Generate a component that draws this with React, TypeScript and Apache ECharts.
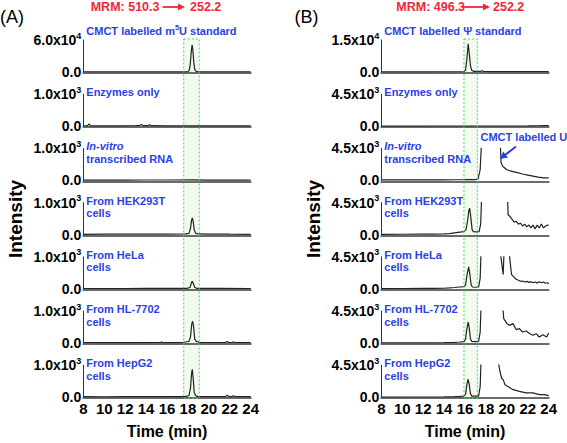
import React, { useEffect, useRef } from 'react';
import * as echarts from 'echarts';

// ---------- data ----------
const TIME_MIN = 8;
const TIME_MAX = 24;
const TIME_STEP = 2;

const A_TITLE = ['MRM: 510.3', '252.2'];
const B_TITLE = ['MRM: 496.3', '252.2'];

const A_LABELS = [
  'CMCT labelled m{sup|5}U standard',
  'Enzymes only',
  '{i|In-vitro}\ntranscribed RNA',
  'From HEK293T\ncells',
  'From HeLa\ncells',
  'From HL-7702\ncells',
  'From HepG2\ncells',
];
const B_LABELS = [
  'CMCT labelled Ψ standard',
  'Enzymes only',
  '{i|In-vitro}\ntranscribed RNA',
  'From HEK293T\ncells',
  'From HeLa\ncells',
  'From HL-7702\ncells',
  'From HepG2\ncells',
];

const A_YMAX = [60000, 1000, 1000, 1000, 1000, 1000, 1000];
const B_YMAX = [15000, 4500, 4500, 4500, 4500, 4500, 4500];

const A_WINDOW = [17.6, 19.08];
const B_WINDOW = [15.9, 17.18];

// Panel A traces [time (min), intensity]
const A_STD = [[8,250],[10,250],[12,250],[14,250],[16,300],[17.8,300],[18.0,700],[18.12,3000],[18.22,14000],[18.32,38000],[18.4,51000],[18.47,42000],[18.56,18000],[18.65,5000],[18.8,1000],[19.0,400],[20,300],[22,250],[24,250]];
const A_ENZ = [[8,10],[8.4,10],[8.55,75],[8.7,20],[9,10],[11,8],[13,15],[13.4,20],[13.55,50],[13.7,20],[14.2,20],[14.35,45],[14.5,15],[16,10],[18,10],[20,8],[22,10],[24,8]];
const A_IVT = [[8,10],[10,12],[12,10],[14,12],[16,12],[18.5,16],[20,10],[22,12],[24,10]];
const A_HEK = [[8,10],[10,12],[12,12],[14,15],[16,15],[17.8,20],[18.1,40],[18.25,200],[18.35,450],[18.42,520],[18.5,420],[18.6,150],[18.75,40],[19,20],[20,15],[22,12],[24,10]];
const A_HELA = [[8,10],[10,10],[12,10],[14,12],[16,12],[17.9,15],[18.2,40],[18.32,180],[18.42,240],[18.52,160],[18.65,40],[18.9,15],[21,12],[24,10]];
const A_HL = [[8,10],[12,10],[15.4,15],[15.5,35],[15.6,12],[17.5,15],[17.9,40],[18.1,50],[18.25,200],[18.37,600],[18.45,680],[18.55,500],[18.65,120],[18.8,50],[19.0,30],[19.3,15],[21.6,15],[21.75,50],[21.9,15],[22.25,15],[22.35,40],[22.5,15],[24,12]];
const A_HEPG2 = [[8,15],[10,12],[12,15],[14,15],[16,18],[17.7,20],[17.9,35],[18.1,45],[18.25,300],[18.35,750],[18.42,870],[18.5,600],[18.6,150],[18.75,40],[19.0,20],[21.6,18],[21.75,60],[21.9,20],[22.25,20],[22.35,45],[22.5,18],[24,15]];

// Panel B traces
const B_STD = [[8,100],[10,100],[12,100],[15,120],[15.9,150],[16.05,800],[16.18,6000],[16.3,13200],[16.4,9000],[16.52,3000],[16.65,700],[16.85,300],[17.5,250],[17.65,600],[17.8,300],[18.5,200],[20,150],[22,150],[24,130]];
const B_ENZ = [[8,20],[10,20],[12,20],[14,25],[16,25],[18,30],[20,30],[22,40],[23,60],[23.5,90],[24,70]];
const B_IVT = [[8,60],[10,60],[12,70],[14,80],[15,90],[16,100],[17,120],[17.25,200],[17.45,1500],[17.6,6000],[18,60000],[19,60000],[19.35,6000],[19.45,2500],[19.6,2000],[20.0,1500],[20.3,1350],[21,1100],[21.5,900],[22,750],[22.5,600],[23,450],[23.5,350],[24,350]];
const B_HEK = [[8,40],[10,50],[12,60],[13,70],[14,100],[14.5,150],[15,250],[15.5,350],[15.9,420],[16.1,700],[16.25,2000],[16.38,3500],[16.45,3700],[16.55,2500],[16.68,700],[16.8,400],[17.1,380],[17.35,420],[17.5,1500],[17.65,8000],[18,60000],[19.8,60000],[20.05,6000],[20.12,2800],[20.3,2550],[20.5,2150],[20.7,1750],[20.9,1880],[21.1,1480],[21.3,1600],[21.5,1210],[21.7,1480],[21.9,1080],[22.1,1340],[22.3,940],[22.5,1340],[22.7,800],[22.9,1340],[23.1,940],[23.3,1480],[23.5,940],[23.7,1200],[23.9,1340],[24,1300]];
const B_HELA = [[8,30],[10,40],[12,50],[13,60],[14,80],[14.5,120],[15,180],[15.5,250],[15.9,300],[16.05,500],[16.2,2000],[16.35,3100],[16.45,2200],[16.58,600],[16.7,250],[17,220],[17.3,250],[17.45,1500],[17.6,8000],[18,60000],[19,60000],[19.3,6000],[19.65,2000],[19.75,6000],[19.9,60000],[20.0,60000],[20.15,6000],[20.45,2000],[20.7,1600],[20.9,1350],[21.1,1200],[21.3,1050],[21.5,1100],[21.7,950],[21.9,1050],[22.1,900],[22.3,1000],[22.5,850],[22.7,950],[22.9,800],[23.1,1000],[23.3,850],[23.5,950],[23.7,780],[23.9,850],[24,700]];
const B_HL = [[8,20],[10,25],[12,30],[14,50],[15,100],[15.5,140],[15.9,180],[16.05,500],[16.18,2000],[16.3,2950],[16.4,2200],[16.52,600],[16.65,220],[17,200],[17.3,220],[17.45,1500],[17.6,8000],[18,60000],[19.3,60000],[19.57,6000],[19.7,3420],[20.02,2720],[20.27,2480],[20.59,2720],[20.9,1875],[21.2,2015],[21.5,1550],[21.85,1690],[22.2,1310],[22.5,1080],[22.8,1310],[23.1,845],[23.45,1170],[23.8,845],[24,1400]];
const B_HEPG2 = [[8,20],[10,25],[12,30],[14,50],[15,90],[15.5,120],[15.9,150],[16.05,400],[16.18,1800],[16.3,2525],[16.4,1800],[16.52,500],[16.65,160],[17,140],[17.3,160],[17.45,1500],[17.6,8000],[18,60000],[19.0,60000],[19.17,5000],[19.35,3580],[19.5,2660],[19.66,2430],[19.82,1745],[20.1,1515],[20.6,1055],[21.2,830],[21.85,600],[22.5,600],[23.1,370],[23.6,370],[24,230]];

const A_SERIES = [A_STD, A_ENZ, A_IVT, A_HEK, A_HELA, A_HL, A_HEPG2];
const B_SERIES = [B_STD, B_ENZ, B_IVT, B_HEK, B_HELA, B_HL, B_HEPG2];

const ANNOT_U = 'CMCT labelled U';

// ---------- layout / style ----------
const FONT = '"Liberation Sans", Arial, sans-serif';
const BLUE = '#2a3fe6';
const RED = '#f02838';
const GRID_TOP0 = 40;
const GRID_STEP = 54.2;
const GRID_H = 32;
const PLOT_W = 167.4;

const PANELS = [
  { left: 83.3, ymax: A_YMAX, series: A_SERIES, labels: A_LABELS, win: A_WINDOW, title: A_TITLE },
  { left: 381.3, ymax: B_YMAX, series: B_SERIES, labels: B_LABELS, win: B_WINDOW, title: B_TITLE },
];

const fmtY = (v: number) => {
  if (v === 0) return '{m|0.0}';
  const e = Math.floor(Math.log10(v) + 1e-9);
  const m = (v / Math.pow(10, e)).toFixed(1);
  return `{m|${m}x10}{s|${e}}`;
};

function buildOption() {
  const grid: any[] = [];
  const xAxis: any[] = [];
  const yAxis: any[] = [];
  const series: any[] = [];
  PANELS.forEach((p, pi) => {
    for (let i = 0; i < 7; i++) {
      const k = pi * 7 + i;
      const last = i === 6;
      grid.push({ left: p.left, top: GRID_TOP0 + i * GRID_STEP, width: PLOT_W, height: GRID_H });
      xAxis.push({
        type: 'value', gridIndex: k, min: TIME_MIN, max: TIME_MAX, interval: TIME_STEP,
        offset: 1,
        axisLine: { show: true, onZero: false, lineStyle: { color: '#6a6a6a', width: 2 } },
        axisTick: { show: false },
        splitLine: { show: false },
        axisLabel: {
          show: last, margin: 3, color: '#000', fontSize: 15, fontWeight: 'bold', fontFamily: FONT,
        },
        name: last ? 'Time (min)' : '',
        nameLocation: 'middle', nameGap: 25,
        nameTextStyle: { color: '#000', fontSize: 16, fontWeight: 'bold', fontFamily: FONT },
      });
      yAxis.push({
        type: 'value', gridIndex: k, min: 0, max: p.ymax[i], interval: p.ymax[i],
        axisLine: { show: true, lineStyle: { color: '#333', width: 1 } },
        axisTick: { show: false },
        splitLine: { show: false },
        axisLabel: {
          margin: 2,
          formatter: fmtY,
          rich: {
            m: { color: '#000', fontSize: 14, fontWeight: 'bold', fontFamily: FONT },
            s: { color: '#000', fontSize: 9, fontWeight: 'bold', fontFamily: FONT, padding: [0, 0, 9, 0] },
          },
        },
      });
      series.push({
        type: 'line', xAxisIndex: k, yAxisIndex: k, data: p.series[i],
        symbol: 'none', showSymbol: false, clip: true, z: 5,
        lineStyle: { color: '#222', width: 1.2 },
      });
    }
  });
  return { animation: false, grid, xAxis, yAxis, series };
}

function buildGraphics(chart: any) {
  const g: any[] = [];
  const labelRich = {
    i: { fill: BLUE, fontSize: 11, fontWeight: 'bold', fontStyle: 'italic', fontFamily: FONT, lineHeight: 12.5 },
    sup: { fill: BLUE, fontSize: 7.5, fontWeight: 'bold', fontFamily: FONT, padding: [0, 0, 7, 0] },
  };
  PANELS.forEach((p, pi) => {
    const k0 = pi * 7;
    // highlighted retention window
    const x1 = chart.convertToPixel({ xAxisIndex: k0 }, p.win[0]);
    const x2 = chart.convertToPixel({ xAxisIndex: k0 }, p.win[1]);
    const yTop = chart.convertToPixel({ yAxisIndex: k0 }, p.ymax[0]) - 1;
    const yBot = chart.convertToPixel({ yAxisIndex: k0 + 6 }, 0) + 1;
    g.push({
      type: 'rect', z: -10, silent: true,
      shape: { x: x1, y: yTop, width: x2 - x1, height: yBot - yTop },
      style: { fill: 'rgba(222,242,214,0.35)', stroke: 'none' },
    });
    g.push({
      type: 'rect', z: 50, silent: true,
      shape: { x: x1, y: yTop, width: x2 - x1, height: yBot - yTop },
      style: { fill: 'none', stroke: '#3ddc3d', lineWidth: 1, lineDash: [2, 2] },
    });
    // sub-plot labels
    p.labels.forEach((t, i) => {
      const top = GRID_TOP0 + i * GRID_STEP;
      g.push({
        type: 'text', z: 60, x: p.left + 3, y: top - (i === 0 ? 9.3 : 2) - 6.25,
        style: {
          text: t, fill: BLUE, fontSize: 11, fontWeight: 'bold', fontFamily: FONT,
          lineHeight: 12.5, align: 'left', verticalAlign: 'top', rich: labelRich,
        },
      });
    });
    // Intensity
    g.push({
      type: 'text', z: 60, x: p.left - 68, y: 219, rotation: Math.PI / 2,
      style: { text: 'Intensity', fill: '#000', fontSize: 19, fontWeight: 'bold', fontFamily: FONT, align: 'center', verticalAlign: 'middle' },
    });
    // panel letter
    g.push({
      type: 'text', z: 60, x: pi === 0 ? 0 : 294.5, y: 16.5,
      style: { text: pi === 0 ? '(A)' : '(B)', fill: '#000', fontSize: 18, fontFamily: FONT, align: 'left', verticalAlign: 'middle' },
    });
    // MRM title
    const tx = pi === 0 ? 90.7 : 396.3;
    const ax1 = pi === 0 ? 162.5 : 462;
    const ax2 = pi === 0 ? 185 : 490;
    const t2 = pi === 0 ? 190 : 493;
    g.push({
      type: 'text', z: 60, x: tx, y: 7,
      style: { text: p.title[0], fill: RED, fontSize: 12.5, fontWeight: 'bold', fontFamily: FONT, align: 'left', verticalAlign: 'middle' },
    });
    g.push({
      type: 'line', z: 60, shape: { x1: ax1, y1: 7, x2: ax2 - 6, y2: 7 },
      style: { stroke: RED, lineWidth: 1.8 },
    });
    g.push({
      type: 'polygon', z: 60, shape: { points: [[ax2 - 7, 3.5], [ax2, 7], [ax2 - 7, 10.5]] },
      style: { fill: RED },
    });
    g.push({
      type: 'text', z: 60, x: t2, y: 7,
      style: { text: p.title[1], fill: RED, fontSize: 12.5, fontWeight: 'bold', fontFamily: FONT, align: 'left', verticalAlign: 'middle' },
    });
  });
  // CMCT labelled U annotation
  g.push({
    type: 'text', z: 60, x: 480.5, y: 137,
    style: { text: ANNOT_U, fill: BLUE, fontSize: 11, fontWeight: 'bold', fontFamily: FONT, align: 'left', verticalAlign: 'middle' },
  });
  g.push({
    type: 'line', z: 60, shape: { x1: 516, y1: 146.5, x2: 505, y2: 155 },
    style: { stroke: BLUE, lineWidth: 2 },
  });
  g.push({
    type: 'polygon', z: 60, shape: { points: [[500, 159], [503.2, 151.5], [508, 157.5]] },
    style: { fill: BLUE },
  });
  return g;
}

export default function App() {
  const ref = useRef<HTMLDivElement>(null);
  useEffect(() => {
    if (!ref.current) return;
    const chart = echarts.init(ref.current, undefined, { renderer: 'svg' });
    chart.setOption(buildOption() as any);
    chart.setOption({ graphic: buildGraphics(chart) } as any);
    return () => chart.dispose();
  }, []);
  return (
    <div
      ref={ref}
      style={{ position: 'absolute', left: 0, top: 0, width: 567, height: 443, background: '#fff' }}
    />
  );
}
